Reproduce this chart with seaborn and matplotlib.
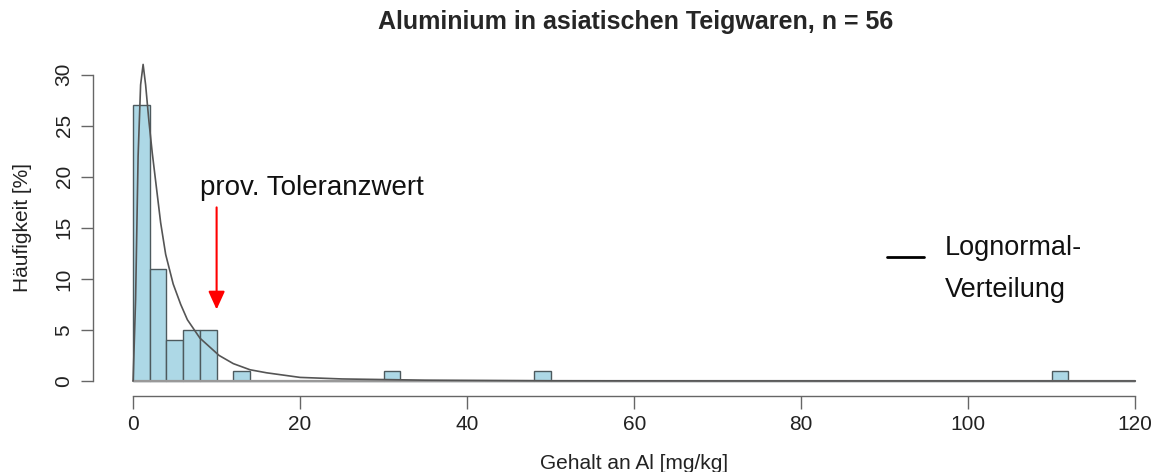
import numpy as np
import pandas as pd
import matplotlib
matplotlib.use("Agg")
import matplotlib.pyplot as plt
import seaborn as sns

# Histogram data (counts per 2 mg/kg bin, n = 56)
bin_left = [0, 2, 4, 6, 8, 12, 30, 48, 110]
counts = [27, 11, 4, 5, 5, 1, 1, 1, 1]
bin_width = 2

# Lognormal curve, points
curve_x = [0, 0.3, 0.6, 0.9, 1.2, 1.5, 1.9, 2.3, 2.8, 3.3, 3.9, 4.8, 5.7, 6.5,
           8, 10.3, 12, 14, 16, 20, 25, 35, 50, 70, 120]
curve_y = [0, 8, 22, 29, 31, 29, 25.4, 22.3, 18.9, 15.5, 12.4, 9.5, 7.5, 6.0,
           4.2, 2.5, 1.7, 1.1, 0.8, 0.35, 0.2, 0.08, 0.02, 0.005, 0]

tolerance = 10
arrow_top = 17
arrow_tip = 7

df = pd.DataFrame({"mid": np.array(bin_left) + bin_width / 2, "n": counts})

sns.set_style("white")
plt.rcParams["font.family"] = ["Liberation Sans", "DejaVu Sans"]

fig = plt.figure(figsize=(11.68, 4.72), dpi=100)
ax = fig.add_axes([93 / 1168, (472 - 396) / 472, 1059 / 1168, (396 - 44) / 472])

sns.histplot(data=df, x="mid", weights="n", binwidth=bin_width, binrange=(0, 120),
             color="#ADD8E6", alpha=1, edgecolor="#4d5a5e", linewidth=1.0, ax=ax)
ax.plot([0, 120], [0, 0], color="#999999", lw=1.6, zorder=1)
sns.lineplot(x=curve_x, y=curve_y, color="#555555", lw=1.2, ax=ax, sort=False)

# tolerance arrow
ax.annotate("", xy=(tolerance, arrow_tip), xytext=(tolerance, arrow_top),
            arrowprops=dict(arrowstyle="-|>,head_width=0.5,head_length=1.1",
                            color="red", lw=1.5, shrinkA=0, shrinkB=0))
ax.text(8.0, 18.9, "prov. Toleranzwert", fontsize=20, color="#111111",
        ha="left", va="center")

# legend-like text
ax.plot([90.3, 94.7], [12.1, 12.1], color="black", lw=2.0)
ax.text(97.2, 13.0, "Lognormal-", fontsize=19.5, color="#111111", va="center")
ax.text(97.2, 8.9, "Verteilung", fontsize=19.5, color="#111111", va="center")

ax.set_xlim(-4.8, 122)
ax.set_ylim(-1.47, 33)
ax.set_xticks([0, 20, 40, 60, 80, 100, 120])
ax.set_yticks([0, 5, 10, 15, 20, 25, 30])
for lab in ax.get_yticklabels():
    lab.set_rotation(90)
    lab.set_va("center")
ax.tick_params(axis="both", length=9, width=1, color="#666666",
               labelsize=15, labelcolor="#222222", pad=5, direction="out")
ax.tick_params(axis="both", bottom=True, left=True)
for s in ["top", "right"]:
    ax.spines[s].set_visible(False)
for s in ["left", "bottom"]:
    ax.spines[s].set_color("#666666")
    ax.spines[s].set_linewidth(1)
ax.spines["left"].set_bounds(0, 30)
ax.spines["bottom"].set_bounds(0, 120)

ax.set_xlabel("Gehalt an Al [mg/kg]", fontsize=15, color="#222222")
ax.set_ylabel("Häufigkeit [%]", fontsize=15, color="#222222")
ax.xaxis.set_label_coords((60 + 4.8) / 126.8, -0.165)
ax.yaxis.set_label_coords(-0.058, (15 + 1.47) / 34.47)
fig.text(636 / 1168, 1 - 22 / 472, "Aluminium in asiatischen Teigwaren, n = 56",
         ha="center", va="center", fontsize=18, fontweight="bold")

fig.savefig("out.png", dpi=100)
